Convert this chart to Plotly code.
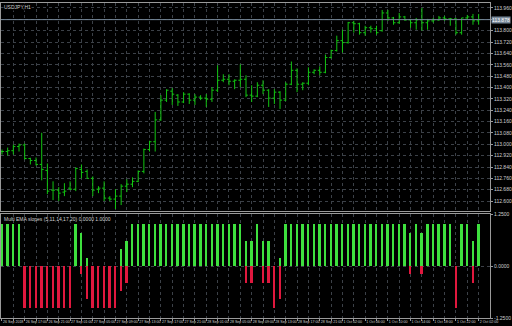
import plotly.graph_objects as go

# ---------------- data ----------------
bar_index = list(range(85))

opens = [112.949, 112.949, 112.955, 112.984, 112.995, 112.900, 112.886, 112.858, 112.816, 112.677,
         112.677, 112.663, 112.691, 112.684, 112.823, 112.809, 112.760, 112.684, 112.691, 112.621,
         112.614, 112.635, 112.705, 112.719, 112.739, 112.809, 112.963, 113.018, 113.172, 113.311,
         113.374, 113.346, 113.298, 113.353, 113.311, 113.332, 113.325, 113.318, 113.381, 113.451,
         113.458, 113.444, 113.451, 113.458, 113.346, 113.339, 113.416, 113.381, 113.325, 113.367,
         113.311, 113.423, 113.521, 113.423, 113.430, 113.507, 113.521, 113.507, 113.611, 113.660,
         113.730, 113.716, 113.856, 113.849, 113.786, 113.821, 113.814, 113.800, 113.925, 113.890,
         113.856, 113.897, 113.876, 113.856, 113.876, 113.856, 113.869, 113.876, 113.890, 113.883,
         113.883, 113.786, 113.890, 113.897, 113.869]
highs = [112.963, 112.977, 112.998, 113.005, 113.005, 112.905, 112.907, 113.081, 112.865, 112.739,
         112.698, 112.726, 112.739, 112.837, 112.858, 112.823, 112.774, 112.705, 112.739, 112.635,
         112.684, 112.719, 112.753, 112.767, 112.816, 112.970, 113.025, 113.228, 113.346, 113.388,
         113.395, 113.353, 113.367, 113.360, 113.353, 113.346, 113.353, 113.402, 113.556, 113.493,
         113.493, 113.458, 113.563, 113.486, 113.416, 113.437, 113.451, 113.388, 113.388, 113.374,
         113.437, 113.583, 113.535, 113.437, 113.542, 113.528, 113.549, 113.632, 113.667, 113.765,
         113.807, 113.862, 113.869, 113.856, 113.835, 113.835, 113.835, 113.946, 113.946, 113.897,
         113.925, 113.904, 113.883, 113.890, 113.960, 113.883, 113.890, 113.904, 113.904, 113.890,
         113.890, 113.890, 113.911, 113.918, 113.918]
lows = [112.928, 112.921, 112.928, 112.949, 112.893, 112.858, 112.851, 112.746, 112.649, 112.607,
        112.600, 112.635, 112.677, 112.670, 112.760, 112.760, 112.635, 112.656, 112.600, 112.600,
        112.544, 112.572, 112.663, 112.698, 112.733, 112.795, 112.949, 112.949, 113.165, 113.298,
        113.277, 113.270, 113.290, 113.284, 113.277, 113.311, 113.263, 113.298, 113.367, 113.437,
        113.416, 113.388, 113.402, 113.332, 113.298, 113.332, 113.353, 113.263, 113.284, 113.249,
        113.304, 113.416, 113.367, 113.381, 113.416, 113.493, 113.486, 113.500, 113.604, 113.653,
        113.646, 113.709, 113.786, 113.772, 113.765, 113.786, 113.772, 113.793, 113.869, 113.842,
        113.849, 113.869, 113.821, 113.807, 113.800, 113.807, 113.856, 113.869, 113.869, 113.835,
        113.772, 113.772, 113.876, 113.842, 113.842]
closes = [112.949, 112.955, 112.984, 112.995, 112.900, 112.886, 112.858, 112.823, 112.670, 112.677,
          112.656, 112.670, 112.684, 112.830, 112.802, 112.760, 112.677, 112.691, 112.621, 112.614,
          112.635, 112.705, 112.719, 112.739, 112.809, 112.963, 113.018, 113.172, 113.311, 113.381,
          113.353, 113.298, 113.353, 113.311, 113.332, 113.325, 113.318, 113.381, 113.451, 113.458,
          113.444, 113.451, 113.458, 113.346, 113.339, 113.416, 113.381, 113.325, 113.367, 113.311,
          113.423, 113.521, 113.423, 113.430, 113.507, 113.521, 113.507, 113.611, 113.660, 113.730,
          113.716, 113.856, 113.849, 113.786, 113.821, 113.814, 113.786, 113.925, 113.890, 113.856,
          113.897, 113.876, 113.856, 113.876, 113.856, 113.869, 113.876, 113.890, 113.883, 113.883,
          113.786, 113.890, 113.897, 113.869, 113.878]

slope_up = [1, 1, 1, 1, 0, 0, 0, 0, 0, 0,
            0, 0, 0, 1, 0.8, 0.2, 0, 0, 0, 0,
            0, 0.4, 0.6, 1, 1, 1, 1, 1, 1, 1,
            1, 1, 1, 1, 1, 1, 1, 1, 1, 1,
            1, 1, 1, 0.6, 0.6, 1, 0.6, 0.6, 0, 0.2,
            1, 1, 1, 1, 1, 1, 1, 1, 1, 1,
            1, 1, 1, 1, 1, 1, 1, 1, 1, 1,
            1, 1, 0.8, 1, 0.8, 1, 1, 1, 1, 1,
            0, 1, 1, 0.6, 1]
slope_down = [-0.0, -0.0, -0.0, -0.0, -1, -1, -1, -1, -1, -1,
              -1, -1, -1, -0.0, -0.2, -0.8, -1, -1, -1, -1,
              -1, -0.6, -0.4, -0.0, -0.0, -0.0, -0.0, -0.0, -0.0, -0.0,
              -0.0, -0.0, -0.0, -0.0, -0.0, -0.0, -0.0, -0.0, -0.0, -0.0,
              -0.0, -0.0, -0.0, -0.4, -0.4, -0.0, -0.4, -0.4, -1, -0.8,
              -0.0, -0.0, -0.0, -0.0, -0.0, -0.0, -0.0, -0.0, -0.0, -0.0,
              -0.0, -0.0, -0.0, -0.0, -0.0, -0.0, -0.0, -0.0, -0.0, -0.0,
              -0.0, -0.0, -0.2, -0.0, -0.2, -0.0, -0.0, -0.0, -0.0, -0.0,
              -1, -0.0, -0.0, -0.4, -0.0]

time_labels = ["26 Sep 2018", "26 Sep 17:00", "26 Sep 21:00", "27 Sep 01:00", "27 Sep 05:00",
               "27 Sep 09:00", "27 Sep 13:00", "27 Sep 17:00", "27 Sep 21:00", "28 Sep 01:00",
               "28 Sep 05:00", "28 Sep 09:00", "28 Sep 13:00", "28 Sep 17:00", "28 Sep 21:00",
               "1 Oct 02:00", "1 Oct 06:00", "1 Oct 10:00", "1 Oct 14:00", "1 Oct 18:00",
               "1 Oct 22:00", "2 Oct 02:00"]
time_label_index = [0, 4, 8, 12, 16, 20, 24, 28, 32, 36, 40, 44, 48, 52, 56, 60, 64, 68, 72, 76, 80, 84]

price_ticks = [113.960, 113.880, 113.800, 113.720, 113.640, 113.560, 113.480, 113.400, 113.320,
               113.240, 113.160, 113.080, 113.000, 112.920, 112.840, 112.760, 112.680, 112.600]
ind_ticks = [1.25, 0.0, -1.25]
ind_tick_text = ["1.2500", "0.0000", "-1.2500"]

symbol_title = "USDJPY,H1"
ind_title = "Multi EMA slopes (5,11,14,17,20) 0.0000 1.0000"

# ---------------- style ----------------
BG = "#000000"
GRID = "#3c4148"
FRAME = "#9a9a9a"
TXT = "#d0d0d0"
BAR_GREEN = "#12c412"
HIST_GREEN = "#3ee03e"
HIST_RED = "#e0183e"
FONT = "Liberation Sans"

last_close = closes[-1]

grid_vals = list(range(0, 86, 2))
grid_text = []
for v in grid_vals:
    if v in time_label_index:
        grid_text.append(time_labels[time_label_index.index(v)])
    else:
        grid_text.append("")

# price label hidden behind the current-price box
price_text = []
for v in price_ticks:
    price_text.append("" if abs(v - last_close) < 0.02 else f"{v:.3f}")

fig = go.Figure()

fig.add_trace(go.Ohlc(
    x=bar_index, open=opens, high=highs, low=lows, close=closes,
    increasing=dict(line=dict(color=BAR_GREEN, width=1)),
    decreasing=dict(line=dict(color=BAR_GREEN, width=1)),
    tickwidth=0.35, xaxis="x", yaxis="y", showlegend=False, hoverinfo="skip"))

fig.add_trace(go.Bar(x=bar_index, y=slope_up, marker=dict(color=HIST_GREEN, line=dict(width=0)),
                     width=0.33, xaxis="x2", yaxis="y2", showlegend=False, hoverinfo="skip"))
fig.add_trace(go.Bar(x=bar_index, y=slope_down, marker=dict(color=HIST_RED, line=dict(width=0)),
                     width=0.33, xaxis="x2", yaxis="y2", showlegend=False, hoverinfo="skip"))

xr = [-0.175, 86.0]
common_x = dict(range=xr, tickvals=grid_vals, ticktext=grid_text, showgrid=True,
                gridcolor=GRID, griddash="dot", gridwidth=1, zeroline=False,
                showline=True, linecolor=FRAME, linewidth=1, mirror=True,
                fixedrange=True, tickangle=0)

fig.update_layout(
    width=512, height=326,
    paper_bgcolor=BG, plot_bgcolor=BG,
    margin=dict(l=0, r=19, t=0, b=8),
    barmode="relative", bargap=0,
    font=dict(family=FONT, size=5, color=TXT),
    xaxis=dict(**common_x, domain=[0, 1], anchor="y", showticklabels=False,
               rangeslider=dict(visible=False), ticks=""),
    yaxis=dict(domain=[0.3396, 1.0], range=[112.530, 113.995], side="right",
               tickvals=price_ticks, ticktext=price_text,
               showgrid=True, gridcolor=GRID, griddash="dot", zeroline=False,
               showline=True, linecolor=FRAME, mirror=True, ticks="outside",
               ticklen=2, tickcolor=FRAME, tickfont=dict(size=5, color=TXT),
               anchor="x", fixedrange=True),
    xaxis2=dict(**common_x, domain=[0, 1], anchor="y2", matches="x",
                ticks="outside", ticklen=2, tickcolor=FRAME,
                ticklabelposition="outside right",
                tickfont=dict(size=3.6, color=TXT), showticklabels=True),
    yaxis2=dict(domain=[0.0, 0.330], range=[-1.25, 1.25], side="right",
                tickvals=ind_ticks, ticktext=ind_tick_text,
                showgrid=True, gridcolor=GRID, griddash="dot", zeroline=False,
                showline=True, linecolor=FRAME, mirror=True, ticks="outside",
                ticklen=2, tickcolor=FRAME, tickfont=dict(size=5, color=TXT),
                anchor="x2", fixedrange=True),
)

fig.add_shape(type="line", xref="x domain", yref="y", x0=0, x1=1,
              y0=last_close, y1=last_close, line=dict(color="#778899", width=1))
fig.add_annotation(xref="paper", yref="y", x=1.0, y=last_close, xanchor="left",
                   text=f"{last_close:.3f}", showarrow=False, bgcolor="#778899",
                   font=dict(size=5, color="#ffffff"), borderpad=0, xshift=1)

fig.add_annotation(xref="paper", yref="paper", x=0.004, y=1.0, xanchor="left", yanchor="top",
                   text=symbol_title, showarrow=False, font=dict(size=5, color=TXT),
                   bgcolor=BG, borderpad=0)
fig.add_annotation(xref="paper", yref="paper", x=0.004, y=0.330, xanchor="left", yanchor="top",
                   text=ind_title, showarrow=False, font=dict(size=5, color=TXT),
                   borderpad=0, yshift=-1)

fig.write_html("out.html")
